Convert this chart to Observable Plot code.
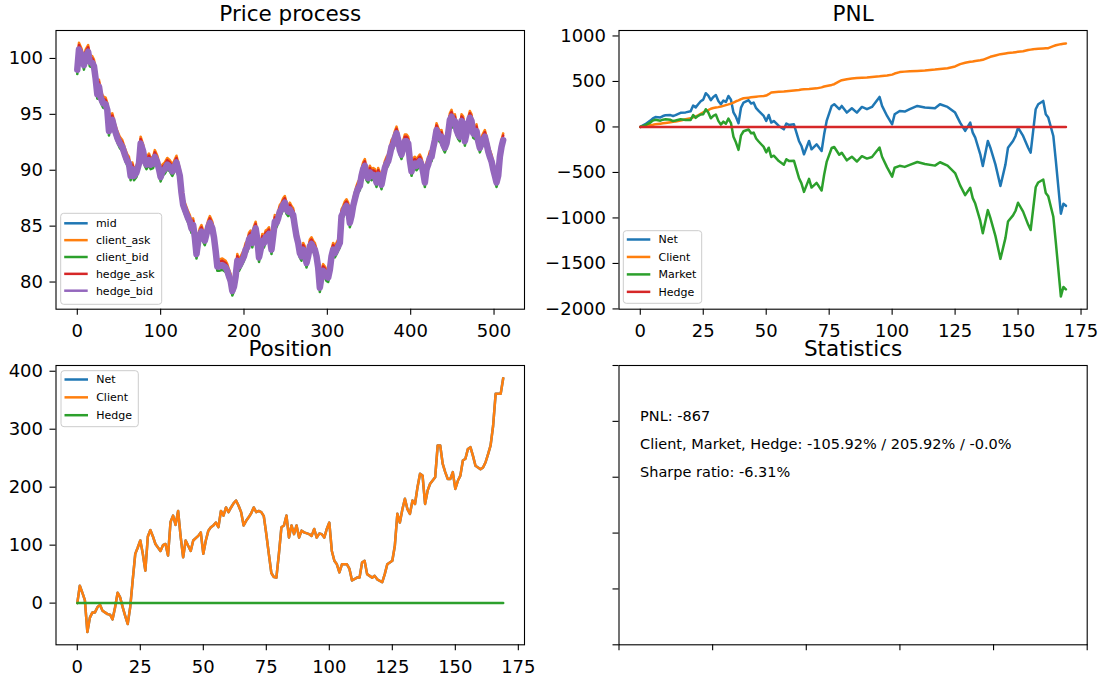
<!DOCTYPE html>
<html>
<head>
<meta charset="utf-8">
<script src="https://cdn.jsdelivr.net/npm/d3@7"></script>
<script src="https://cdn.jsdelivr.net/npm/@observablehq/plot@0.6"></script>
<style>
  body { margin: 0; background: #fff; }
  #fig { position: relative; width: 1102px; height: 681px; background: #fff; overflow: hidden; font-family: "DejaVu Sans"; }
  #fig svg { position: absolute; left: 0; top: 0; }
</style>
</head>
<body>
<div id="fig"></div>
<script>
// ---------------- DATA ----------------
// Price process (time index 0..511)
const priceX = [0,2,5,8,10,13,15,18,20,22,
24,26,28,31,34,36,38,40,42,45,
48,51,54,57,60,62,64,66,68,71,
74,76,79,81,83,86,88,91,93,96,
98,100,102,105,108,111,114,116,119,121,
123,125,127,130,133,135,137,139,141,143,
145,147,149,151,153,155,157,159,162,164,
166,168,
170,174,178,180,182,184,186,188,190,192,
194,196,198,200,202,204,206,208,210,212,
214,216,218,220,222,224,226,228,230,232,
233,235,237,239,241,243,245,247,249,251,
253,255,257,259,261,263,265,267,269,271,
273,275,277,279,281,283,285,287,289,291,
293,295,297,299,301,303,305,307,309,311,
313,315,317,319,321,323,325,327,329,331,
333,335,337,339,341,343,345,347,349,351,
353,355,357,
359,361,363,365,367,369,371,373,375,377,
379,381,383,385,387,389,391,393,395,397,
399,401,403,405,407,409,411,413,415,417,
419,421,423,425,427,429,431,433,435,437,
439,441,443,445,447,449,451,453,455,457,
459,461,463,465,467,469,471,473,475,477,
479,481,483,485,487,489,491,493,495,497,
499,501,503,505,507,509,511];

const mid = [99.1,100.9,100.4,99.5,100.3,100.7,99.8,99.7,99.4,98.3,
96.9,97.6,96.6,96.1,96.0,95.5,93.6,94.5,94.6,93.7,
93.0,92.5,92.2,91.5,90.9,90.7,89.6,90.2,89.6,89.9,
90.7,92.5,91.8,90.9,90.6,91.0,90.6,90.7,91.3,90.8,
90.2,89.5,90.0,90.2,90.6,90.4,90.0,90.3,90.8,90.2,
89.6,88.1,87.0,86.4,85.8,85.5,84.9,85.2,84.1,82.6,
83.7,84.3,84.6,84.1,83.8,84.4,85.0,85.4,84.9,84.1,
82.9,81.5,
81.5,81.6,81.4,81.1,80.6,80.2,79.3,79.7,80.6,82.0,
81.5,81.8,82.1,82.4,83.0,83.2,83.9,84.1,83.6,84.5,
84.9,83.9,82.3,83.0,83.8,83.6,84.1,84.2,84.4,83.5,
83.0,84.2,85.5,85.4,85.8,86.4,86.6,87.0,87.2,86.6,
86.4,86.6,86.3,86.1,85.1,84.2,83.6,82.7,82.4,83.0,
82.7,81.8,82.4,83.3,83.5,83.2,83.0,82.4,81.4,79.6,
80.6,81.1,80.9,80.6,80.5,81.2,82.4,83.0,82.7,83.0,
83.3,83.6,86.0,86.3,86.7,86.9,86.6,85.4,86.0,86.9,
87.5,88.1,88.5,88.7,89.6,90.2,90.5,89.6,89.4,89.9,
89.6,89.7,89.6,
89.0,89.7,89.3,88.8,89.6,90.3,90.7,90.9,91.5,92.2,
92.4,93.0,93.4,92.8,91.9,91.5,92.1,92.7,92.7,92.5,
91.0,90.0,90.6,90.7,90.5,90.7,90.9,90.6,89.9,89.0,
90.2,90.6,91.2,91.3,92.1,92.8,93.7,93.3,93.0,93.1,
92.4,92.1,92.5,93.4,94.6,94.9,94.3,94.5,93.7,93.3,
93.1,94.5,94.3,92.7,93.4,94.2,94.8,94.5,93.4,93.3,
93.6,92.7,92.1,92.5,92.8,93.1,92.5,91.8,91.3,90.9,
90.2,89.6,89.0,89.6,91.3,92.2,92.8];

const clientAsk = [99.6,101.4,100.9,100.0,100.8,101.2,100.3,100.2,99.9,98.8,
97.4,98.1,97.1,96.6,96.5,96.0,94.1,95.0,95.1,94.2,
93.5,93.0,92.7,92.0,91.4,91.2,90.1,90.7,90.1,90.4,
91.2,93.0,92.3,91.4,91.1,91.5,91.1,91.2,91.8,91.3,
90.7,90.0,90.5,90.7,91.1,90.9,90.5,90.8,91.3,90.7,
90.1,88.6,87.5,86.9,86.3,86.0,85.4,85.7,84.6,83.1,
84.2,84.8,85.1,84.6,84.3,84.9,85.5,85.9,85.4,84.6,
83.4,82.0,
82.0,82.1,81.9,81.6,81.1,80.7,79.8,80.2,81.1,82.5,
82.0,82.3,82.6,82.9,83.5,83.7,84.4,84.6,84.1,85.0,
85.4,84.4,82.8,83.5,84.3,84.1,84.6,84.7,84.9,84.0,
83.5,84.7,86.0,85.9,86.3,86.9,87.1,87.5,87.7,87.1,
86.9,87.1,86.8,86.6,85.6,84.7,84.1,83.2,82.9,83.5,
83.2,82.3,82.9,83.8,84.0,83.7,83.5,82.9,81.9,80.1,
81.1,81.6,81.4,81.1,81.0,81.7,82.9,83.5,83.2,83.5,
83.8,84.1,86.5,86.8,87.2,87.4,87.1,85.9,86.5,87.4,
88.0,88.6,89.0,89.2,90.1,90.7,91.0,90.1,89.9,90.4,
90.1,90.2,90.1,
89.5,90.2,89.8,89.3,90.1,90.8,91.2,91.4,92.0,92.7,
92.9,93.5,93.9,93.3,92.4,92.0,92.6,93.2,93.2,93.0,
91.5,90.5,91.1,91.2,91.0,91.2,91.4,91.1,90.4,89.5,
90.7,91.1,91.7,91.8,92.6,93.3,94.2,93.8,93.5,93.6,
92.9,92.6,93.0,93.9,95.1,95.4,94.8,95.0,94.2,93.8,
93.6,95.0,94.8,93.2,93.9,94.7,95.3,95.0,93.9,93.8,
94.1,93.2,92.6,93.0,93.3,93.6,93.0,92.3,91.8,91.4,
90.7,90.1,89.5,90.1,91.8,92.7,93.3];

const clientBid = [98.6,100.4,99.9,99.0,99.8,100.2,99.3,99.2,98.9,97.8,
96.4,97.1,96.1,95.6,95.5,95.0,93.1,94.0,94.1,93.2,
92.5,92.0,91.7,91.0,90.4,90.2,89.1,89.7,89.1,89.4,
90.2,92.0,91.3,90.4,90.1,90.5,90.1,90.2,90.8,90.3,
89.7,89.0,89.5,89.7,90.1,89.9,89.5,89.8,90.3,89.7,
89.1,87.6,86.5,85.9,85.3,85.0,84.4,84.7,83.6,82.1,
83.2,83.8,84.1,83.6,83.3,83.9,84.5,84.9,84.4,83.6,
82.4,81.0,
81.0,81.1,80.9,80.6,80.1,79.7,78.8,79.2,80.1,81.5,
81.0,81.3,81.6,81.9,82.5,82.7,83.4,83.6,83.1,84.0,
84.4,83.4,81.8,82.5,83.3,83.1,83.6,83.7,83.9,83.0,
82.5,83.7,85.0,84.9,85.3,85.9,86.1,86.5,86.7,86.1,
85.9,86.1,85.8,85.6,84.6,83.7,83.1,82.2,81.9,82.5,
82.2,81.3,81.9,82.8,83.0,82.7,82.5,81.9,80.9,79.1,
80.1,80.6,80.4,80.1,80.0,80.7,81.9,82.5,82.2,82.5,
82.8,83.1,85.5,85.8,86.2,86.4,86.1,84.9,85.5,86.4,
87.0,87.6,88.0,88.2,89.1,89.7,90.0,89.1,88.9,89.4,
89.1,89.2,89.1,
88.5,89.2,88.8,88.3,89.1,89.8,90.2,90.4,91.0,91.7,
91.9,92.5,92.9,92.3,91.4,91.0,91.6,92.2,92.2,92.0,
90.5,89.5,90.1,90.2,90.0,90.2,90.4,90.1,89.4,88.5,
89.7,90.1,90.7,90.8,91.6,92.3,93.2,92.8,92.5,92.6,
91.9,91.6,92.0,92.9,94.1,94.4,93.8,94.0,93.2,92.8,
92.6,94.0,93.8,92.2,92.9,93.7,94.3,94.0,92.9,92.8,
93.1,92.2,91.6,92.0,92.3,92.6,92.0,91.3,90.8,90.4,
89.7,89.1,88.5,89.1,90.8,91.7,92.3];

const hedgeAsk = [99.4,101.2,100.7,99.8,100.6,101.0,100.1,100.0,99.7,98.6,
97.2,97.9,96.9,96.4,96.3,95.8,93.9,94.8,94.9,94.0,
93.3,92.8,92.5,91.8,91.2,91.0,89.9,90.5,89.9,90.2,
91.0,92.8,92.1,91.2,90.9,91.3,90.9,91.0,91.6,91.1,
90.5,89.8,90.3,90.5,90.9,90.7,90.3,90.6,91.1,90.5,
89.9,88.4,87.3,86.7,86.1,85.8,85.2,85.5,84.4,82.9,
84.0,84.6,84.9,84.4,84.1,84.7,85.3,85.7,85.2,84.4,
83.2,81.8,
81.8,81.9,81.7,81.4,80.9,80.5,79.6,80.0,80.9,82.3,
81.8,82.1,82.4,82.7,83.3,83.5,84.2,84.4,83.9,84.8,
85.2,84.2,82.6,83.3,84.1,83.9,84.4,84.5,84.7,83.8,
83.3,84.5,85.8,85.7,86.1,86.7,86.9,87.3,87.5,86.9,
86.7,86.9,86.6,86.4,85.4,84.5,83.9,83.0,82.7,83.3,
83.0,82.1,82.7,83.6,83.8,83.5,83.3,82.7,81.7,79.9,
80.9,81.4,81.2,80.9,80.8,81.5,82.7,83.3,83.0,83.3,
83.6,83.9,86.3,86.6,87.0,87.2,86.9,85.7,86.3,87.2,
87.8,88.4,88.8,89.0,89.9,90.5,90.8,89.9,89.7,90.2,
89.9,90.0,89.9,
89.3,90.0,89.6,89.1,89.9,90.6,91.0,91.2,91.8,92.5,
92.7,93.3,93.7,93.1,92.2,91.8,92.4,93.0,93.0,92.8,
91.3,90.3,90.9,91.0,90.8,91.0,91.2,90.9,90.2,89.3,
90.5,90.9,91.5,91.6,92.4,93.1,94.0,93.6,93.3,93.4,
92.7,92.4,92.8,93.7,94.9,95.2,94.6,94.8,94.0,93.6,
93.4,94.8,94.6,93.0,93.7,94.5,95.1,94.8,93.7,93.6,
93.9,93.0,92.4,92.8,93.1,93.4,92.8,92.1,91.6,91.2,
90.5,89.9,89.3,89.9,91.6,92.5,93.1];

const hedgeBid = [99.0,100.8,100.3,99.4,100.2,100.6,99.7,99.6,99.3,98.2,
96.8,97.5,96.5,96.0,95.9,95.4,93.5,94.4,94.5,93.6,
92.9,92.4,92.1,91.4,90.8,90.6,89.5,90.1,89.5,89.8,
90.6,92.4,91.7,90.8,90.5,90.9,90.5,90.6,91.2,90.7,
90.1,89.4,89.9,90.1,90.5,90.3,89.9,90.2,90.7,90.1,
89.5,88.0,86.9,86.3,85.7,85.4,84.8,85.1,84.0,82.5,
83.6,84.2,84.5,84.0,83.7,84.3,84.9,85.3,84.8,84.0,
82.8,81.4,
81.4,81.5,81.3,81.0,80.5,80.1,79.2,79.6,80.5,81.9,
81.4,81.7,82.0,82.3,82.9,83.1,83.8,84.0,83.5,84.4,
84.8,83.8,82.2,82.9,83.7,83.5,84.0,84.1,84.3,83.4,
82.9,84.1,85.4,85.3,85.7,86.3,86.5,86.9,87.1,86.5,
86.3,86.5,86.2,86.0,85.0,84.1,83.5,82.6,82.3,82.9,
82.6,81.7,82.3,83.2,83.4,83.1,82.9,82.3,81.3,79.5,
80.5,81.0,80.8,80.5,80.4,81.1,82.3,82.9,82.6,82.9,
83.2,83.5,85.9,86.2,86.6,86.8,86.5,85.3,85.9,86.8,
87.4,88.0,88.4,88.6,89.5,90.1,90.4,89.5,89.3,89.8,
89.5,89.6,89.5,
88.9,89.6,89.2,88.7,89.5,90.2,90.6,90.8,91.4,92.1,
92.3,92.9,93.3,92.7,91.8,91.4,92.0,92.6,92.6,92.4,
90.9,89.9,90.5,90.6,90.4,90.6,90.8,90.5,89.8,88.9,
90.1,90.5,91.1,91.2,92.0,92.7,93.6,93.2,92.9,93.0,
92.3,92.0,92.4,93.3,94.5,94.8,94.2,94.4,93.6,93.2,
93.0,94.4,94.2,92.6,93.3,94.1,94.7,94.4,93.3,93.2,
93.5,92.6,92.0,92.4,92.7,93.0,92.4,91.7,91.2,90.8,
90.1,89.5,88.9,89.5,91.2,92.1,92.7];

// PNL (step index 0..169)
const pnlX = [0,2,4,5,6,8,9,10,12,13,
14,16,18,20,21,22,23,24,25,26,
27,28,29,30,31,32,33,34,35,36,
37,38,39,40,41,43,44,45,46,47,
49,50,51,52,53,55,57,58,59,61,
63,64,65,67,68,70,72,73,74,76,
77,79,80,82,84,86,88,90,92,95,
96,98,100,101,103,105,107,110,113,117,
119,122,125,127,129,131,132,133,135,136,
138,139,141,143,145,146,148,149,150,152,
154,155,156,157,158,160,161,162,164,165,
167,168,169];
const pnlNet = [0,30,70,95,108,105,120,128,130,121,
130,155,160,172,235,215,250,282,300,370,
345,295,330,350,285,250,290,275,340,300,
160,110,40,213,268,294,257,268,206,176,
121,66,132,48,66,11,-26,37,22,29,
-154,-209,-301,-154,-246,-191,-264,-81,66,231,
250,195,231,158,206,158,220,195,220,330,
231,121,29,139,176,169,195,231,213,206,
250,220,158,48,-44,48,-62,-117,-301,-430,
-154,-228,-411,-650,-411,-228,-154,-99,-7,-99,
-228,-283,-44,195,250,286,139,103,-99,-374,
-954,-844,-867];
const pnlClient = [0,10,22,25,29,36,40,44,52,56,
60,70,84,95,105,115,128,145,160,175,
185,200,208,213,218,224,232,240,248,257,
268,282,292,305,315,322,326,330,333,336,
340,345,360,378,382,386,389,392,395,400,
406,411,413,417,420,424,435,444,450,462,
470,500,514,525,533,538,541,543,550,556,
559,565,575,587,603,608,612,616,620,631,
638,646,665,690,705,716,720,725,732,738,
760,771,786,800,808,812,818,822,826,832,
845,850,855,858,860,863,865,866,888,898,
910,915,918];
const pnlMarket = [0,20,48,70,79,69,80,84,78,65,
70,85,76,77,130,100,122,137,140,195,
160,95,122,137,67,26,58,35,92,43,
-108,-172,-252,-92,-47,-28,-69,-62,-127,-160,
-219,-279,-228,-330,-316,-375,-415,-355,-373,-371,
-560,-620,-714,-571,-666,-615,-699,-525,-384,-231,
-220,-305,-283,-367,-327,-380,-321,-348,-330,-226,
-328,-444,-546,-448,-427,-439,-417,-385,-407,-425,
-388,-426,-507,-642,-749,-668,-782,-842,-1033,-1168,
-914,-999,-1197,-1450,-1219,-1040,-972,-921,-833,-931,
-1073,-1133,-899,-663,-610,-577,-726,-763,-987,-1272,
-1864,-1759,-1785];
const pnlHedgeX = [0, 169];
const pnlHedge = [0, 0];

// Position (step index 0..169)
const posX = [0,1,2,3,4,5,6,7,8,9,
10,11,12,13,14,15,16,17,18,19,
20,21,22,23,24,25,26,27,28,29,
30,31,32,33,34,35,36,37,38,39,
40,41,42,43,44,45,46,47,48,49,
50,51,52,53,54,55,56,57,58,59,
60,61,62,63,64,65,66,67,68,69,
70,71,72,73,74,75,76,77,78,79,
80,81,82,83,84,85,86,87,88,89,
90,92,93,94,95,96,97,98,99,100,
101,102,103,104,105,107,108,109,111,112,
113,114,115,117,118,119,121,122,123,125,
126,127,128,129,130,131,132,133,134,135,
136,137,138,139,140,142,143,144,145,146,
147,148,149,150,151,152,153,154,155,156,
157,158,160,161,162,163,164,165,166,167,
168,169];
const posClient = [0,30,18,5,-50,-25,-16,-16,-7,-3,
-13,-16,-19,-20,-28,-7,18,10,-7,-22,
-36,-7,40,85,96,108,85,56,115,126,
115,102,96,90,100,102,82,140,151,135,
159,115,79,108,99,90,108,112,116,122,
85,108,125,131,134,139,131,159,151,165,
157,165,172,177,168,157,134,142,148,155,
165,157,159,157,150,119,85,52,45,44,
85,131,134,151,113,134,119,134,113,125,
122,119,116,128,113,120,119,113,128,139,
90,73,67,53,67,67,59,39,44,44,
70,73,50,44,47,41,36,50,67,73,
99,154,139,162,180,162,154,177,171,200,
223,220,171,194,206,217,272,272,240,226,
214,214,226,197,211,220,246,249,266,269,
254,237,231,234,243,257,272,306,361,361,
361,388];
const posNet = [0,30,18,5,-50,-25,-16,-16,-7,-3,
-13,-16,-19,-20,-28,-7,18,10,-7,-22,
-36,-7,40,85,96,108,85,56,115,126,
115,102,96,90,100,102,82,140,151,135,
159,115,79,108,99,90,108,112,116,122,
85,108,125,131,134,139,131,159,151,165,
157,165,172,177,168,157,134,142,148,155,
165,157,159,157,150,119,85,52,45,44,
85,131,134,151,113,134,119,134,113,125,
122,119,116,128,113,120,119,113,128,139,
90,73,67,53,67,67,59,39,44,44,
70,73,50,44,47,41,36,50,67,73,
99,154,139,162,180,162,154,177,171,200,
223,220,171,194,206,217,272,272,240,226,
214,214,226,197,211,220,246,249,266,269,
254,237,231,234,243,257,272,306,361,361,
361,388];
const posHedgeX = [0, 169];
const posHedge = [0, 0];

// Labels & ticks
const titles = ["Price process", "PNL", "Position", "Statistics"];
const priceLabels = ["mid", "client_ask", "client_bid", "hedge_ask", "hedge_bid"];
const pnlLabels = ["Net", "Client", "Market", "Hedge"];
const posLabels = ["Net", "Client", "Hedge"];
const statsLines = ["PNL: -867", "Client, Market, Hedge: -105.92% / 205.92% / -0.0%", "Sharpe ratio: -6.31%"];
const priceXTicks = [0, 100, 200, 300, 400, 500];
const priceYTicks = [80, 85, 90, 95, 100];
const stepTicks = [0, 25, 50, 75, 100, 125, 150, 175];
const pnlYTicks = [-2000, -1500, -1000, -500, 0, 500, 1000];
const posYTicks = [0, 100, 200, 300, 400];
const unitTicks = [0, 0.2, 0.4, 0.6, 0.8, 1];

// ---------------- DRAWING ----------------
const W = 1102, H = 681;
const FONT = "DejaVu Sans";
const tab = ["#1f77b4", "#ff7f0e", "#2ca02c", "#d62728", "#9467bd"];
const LW = 2.5;
const fmt = d3.format("d");
const fig = document.getElementById("fig");

function panel(box, xDomain, yDomain, xTicks, yTicks, withLabels, title, marks) {
  const [x0, y0, x1, y1] = box;
  const tf = withLabels ? fmt : () => "";
  const svg = Plot.plot({
    width: W, height: H,
    marginLeft: x0, marginRight: W - x1, marginTop: y0, marginBottom: H - y1,
    x: {domain: xDomain},
    y: {domain: yDomain},
    style: {background: "transparent", fontFamily: FONT, fontSize: "18px", color: "#000", overflow: "visible"},
    marks: [
      ...marks,
      Plot.frame({stroke: "#000", strokeWidth: 1.1}),
      Plot.axisX({ticks: xTicks, tickSize: 6, tickPadding: 9.5, tickFormat: tf, label: null, fontSize: 18, strokeWidth: 1.1}),
      Plot.axisY({ticks: yTicks, tickSize: 6, tickPadding: 7, tickFormat: tf, label: null, fontSize: 18, strokeWidth: 1.1}),
      Plot.text([title], {frameAnchor: "top", lineAnchor: "bottom", dy: -10, fontSize: 21.5})
    ]
  });
  fig.appendChild(svg);
}

// Panel 1: Price process
panel([55.5, 30, 524, 308.7], [-25.55, 536.55], [77.57, 102.5], priceXTicks, priceYTicks, true, titles[0], [
  Plot.lineY(mid, {x: priceX, stroke: tab[0], strokeWidth: LW}),
  Plot.lineY(clientAsk, {x: priceX, stroke: tab[1], strokeWidth: LW}),
  Plot.lineY(clientBid, {x: priceX, stroke: tab[2], strokeWidth: LW}),
  Plot.lineY(hedgeAsk, {x: priceX, stroke: tab[3], strokeWidth: LW}),
  Plot.lineY(hedgeBid, {x: priceX, stroke: tab[4], strokeWidth: 6.5})
]);

// Panel 2: PNL
panel([618.5, 30, 1086.7, 308.7], [-8.45, 177.45], [-2003, 1060], stepTicks, pnlYTicks, true, titles[1], [
  Plot.lineY(pnlNet, {x: pnlX, stroke: tab[0], strokeWidth: LW}),
  Plot.lineY(pnlClient, {x: pnlX, stroke: tab[1], strokeWidth: LW}),
  Plot.lineY(pnlMarket, {x: pnlX, stroke: tab[2], strokeWidth: LW}),
  Plot.lineY(pnlHedge, {x: pnlHedgeX, stroke: tab[3], strokeWidth: LW})
]);

// Panel 3: Position
panel([55.5, 365, 524, 644.3], [-8.45, 177.45], [-71.9, 409.9], stepTicks, posYTicks, true, titles[2], [
  Plot.lineY(posNet, {x: posX, stroke: tab[0], strokeWidth: LW}),
  Plot.lineY(posClient, {x: posX, stroke: tab[1], strokeWidth: LW}),
  Plot.lineY(posHedge, {x: posHedgeX, stroke: tab[2], strokeWidth: LW})
]);

// Panel 4: Statistics
panel([618.5, 365, 1086.7, 644.3], [0, 1], [0, 1], unitTicks, unitTicks, false, titles[3], [
  Plot.text(statsLines, {x: 0.045, y: (d, i) => 0.8 - 0.1 * i, textAnchor: "start", lineAnchor: "bottom", fontSize: 14.5})
]);

// Legends (matplotlib style)
const lsvg = d3.create("svg").attr("width", W).attr("height", H).attr("viewBox", `0 0 ${W} ${H}`)
  .style("position", "absolute").style("left", "0px").style("top", "0px").style("font-family", FONT);
function legend(spec, labels, colors) {
  const g = lsvg.append("g");
  g.append("rect").attr("x", spec.x).attr("y", spec.y).attr("width", spec.w).attr("height", spec.h)
    .attr("rx", 3).attr("fill", "#fff").attr("fill-opacity", 0.8).attr("stroke", "#cccccc").attr("stroke-width", 1);
  labels.forEach((lab, i) => {
    const cy = spec.y + spec.first + i * spec.gap;
    g.append("line").attr("x1", spec.x + 3.5).attr("x2", spec.x + 27).attr("y1", cy).attr("y2", cy)
      .attr("stroke", colors[i]).attr("stroke-width", LW);
    g.append("text").attr("x", spec.x + 35.2).attr("y", cy).attr("dy", "0.35em")
      .attr("font-size", 11).attr("fill", "#000").text(lab);
  });
}
legend({x: 60.7, y: 213.3, w: 101, h: 91, first: 10, gap: 16.85}, priceLabels, tab);
legend({x: 623.3, y: 230.7, w: 78.4, h: 72.6, first: 8.8, gap: 17.45}, pnlLabels, tab);
legend({x: 61, y: 370.7, w: 77.3, h: 56, first: 8.8, gap: 17.85}, posLabels, tab);
fig.appendChild(lsvg.node());
</script>
</body>
</html>
